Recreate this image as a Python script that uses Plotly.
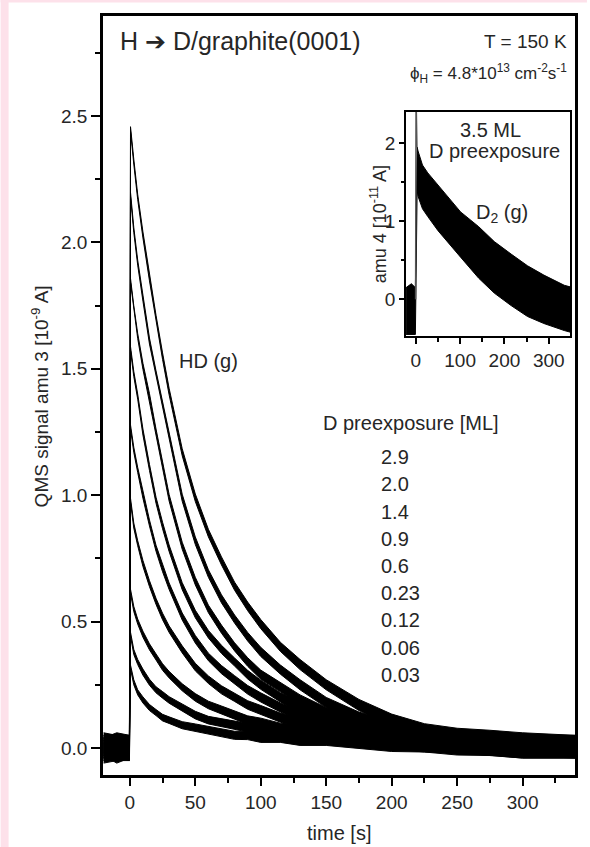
import plotly.graph_objects as go

# ---------------- data ----------------
preexposure = ["2.9", "2.0", "1.4", "0.9", "0.6", "0.23", "0.12", "0.06", "0.03"]

t_pre = [-20, -10, -0.3]
t_decay = [0.5, 3, 6, 10, 15, 20, 25, 30, 40, 50, 60, 70, 80, 90, 100,
           115, 130, 150, 175, 200, 225, 250, 275, 300, 340]

base_pre = [
    [0.01, -0.01, 0.00],
    [0.00, 0.01, 0.01],
    [-0.01, 0.00, -0.01],
    [0.02, 0.01, 0.00],
    [-0.02, -0.01, 0.00],
    [0.00, 0.02, 0.01],
    [0.01, -0.02, 0.00],
    [-0.01, 0.00, 0.01],
    [0.00, -0.01, -0.01],
]

hd_29 = [2.45, 2.32, 2.18, 2.03, 1.86, 1.70, 1.55, 1.41, 1.17, 0.99, 0.85, 0.74, 0.64, 0.56, 0.49,
         0.40, 0.33, 0.25, 0.17, 0.11, 0.07, 0.05, 0.04, 0.03, 0.02]
hd_20 = [2.19, 2.05, 1.92, 1.78, 1.61, 1.48, 1.36, 1.24, 0.99, 0.82, 0.69, 0.59, 0.51, 0.44, 0.38,
         0.31, 0.25, 0.18, 0.12, 0.08, 0.05, 0.04, 0.03, 0.02, 0.02]
hd_14 = [1.85, 1.74, 1.63, 1.51, 1.39, 1.25, 1.12, 0.99, 0.80, 0.66, 0.55, 0.47, 0.40, 0.34, 0.29,
         0.24, 0.19, 0.14, 0.09, 0.06, 0.04, 0.03, 0.02, 0.02, 0.01]
hd_09 = [1.58, 1.48, 1.39, 1.25, 1.11, 0.98, 0.88, 0.79, 0.64, 0.53, 0.45, 0.39, 0.34, 0.29, 0.25,
         0.20, 0.16, 0.12, 0.08, 0.05, 0.04, 0.03, 0.02, 0.01, 0.01]
hd_06 = [1.27, 1.18, 1.10, 1.00, 0.89, 0.79, 0.71, 0.64, 0.52, 0.43, 0.36, 0.31, 0.27, 0.23, 0.20,
         0.16, 0.13, 0.10, 0.07, 0.05, 0.03, 0.02, 0.01, 0.00, 0.00]
hd_023 = [0.98, 0.88, 0.81, 0.73, 0.65, 0.58, 0.52, 0.47, 0.39, 0.32, 0.27, 0.23, 0.20, 0.17, 0.15,
          0.12, 0.10, 0.08, 0.05, 0.04, 0.03, 0.02, 0.01, 0.01, 0.00]
hd_012 = [0.62, 0.55, 0.50, 0.45, 0.40, 0.36, 0.32, 0.29, 0.24, 0.20, 0.17, 0.15, 0.13, 0.11, 0.10,
          0.08, 0.07, 0.05, 0.04, 0.03, 0.02, 0.01, 0.00, -0.01, -0.01]
hd_006 = [0.45, 0.38, 0.34, 0.30, 0.26, 0.23, 0.21, 0.19, 0.16, 0.13, 0.11, 0.10, 0.09, 0.08, 0.07,
          0.06, 0.05, 0.04, 0.03, 0.02, 0.01, 0.01, 0.00, 0.00, -0.01]
hd_003 = [0.32, 0.26, 0.22, 0.19, 0.16, 0.14, 0.12, 0.11, 0.09, 0.08, 0.07, 0.06, 0.05, 0.05, 0.04,
          0.04, 0.03, 0.03, 0.02, 0.01, 0.01, 0.00, 0.00, -0.01, -0.01]
hd_curves = [hd_29, hd_20, hd_14, hd_09, hd_06, hd_023, hd_012, hd_006, hd_003]

# noise half-width of the traces (signal units)
noise_pre = [0.04, 0.04, 0.04]
noise_decay = [0.008, 0.01, 0.01, 0.012, 0.012, 0.012, 0.013, 0.013, 0.014, 0.015, 0.015, 0.016,
               0.016, 0.017, 0.018, 0.018, 0.02, 0.02, 0.022, 0.024, 0.026, 0.028, 0.03, 0.03, 0.03]

# inset: D2 signal, amu 4, 3.5 ML preexposure (envelope of the noisy trace)
d2_t = [-22, -10, -1, 3, 5, 15, 27, 50, 69, 101, 142, 177, 215, 252, 289, 335, 348]
d2_hi = [0.15, 0.20, 0.15, 1.95, 1.90, 1.72, 1.62, 1.46, 1.34, 1.12, 0.93, 0.74, 0.58, 0.43, 0.31, 0.18, 0.16]
d2_lo = [-0.45, -0.45, -0.45, 1.40, 1.32, 1.16, 1.06, 0.88, 0.76, 0.54, 0.27, 0.08, -0.08, -0.22, -0.31, -0.40, -0.42]
spike_t = [-0.5, 0.5, 2.5]
spike_v = [0.0, 2.6, 1.95]

# ---------------- figure ----------------
W, H = 590, 847
ML, MR, MT, MB = 103, 12, 16, 72
PW, PH = W - ML - MR, H - MT - MB


def px(x):
    return (x - ML) / PW


def py(y):
    return (H - MB - y) / PH


FONT = "Liberation Sans, Arial, Helvetica, sans-serif"
TXT = "#262626"

fig = go.Figure()

for vals, base in zip(hd_curves, base_pre):
    xs = t_pre + t_decay
    ys = base + vals
    ns = noise_pre + noise_decay
    up = [y + n for y, n in zip(ys, ns)]
    lo = [y - n for y, n in zip(ys, ns)]
    fig.add_trace(go.Scatter(
        x=xs + xs[::-1], y=up + lo[::-1], mode="lines", fill="toself",
        fillcolor="black", line=dict(color="black", width=1),
        xaxis="x", yaxis="y", showlegend=False, hoverinfo="skip"))

fig.add_trace(go.Scatter(
    x=d2_t + d2_t[::-1], y=d2_hi + d2_lo[::-1], mode="lines", fill="toself",
    fillcolor="black", line=dict(color="black", width=1),
    xaxis="x2", yaxis="y2", showlegend=False, hoverinfo="skip"))
fig.add_trace(go.Scatter(
    x=spike_t, y=spike_v, mode="lines", line=dict(color="#555555", width=1.5),
    xaxis="x2", yaxis="y2", showlegend=False, hoverinfo="skip"))

axis_common = dict(showline=True, linecolor="black", mirror=True, ticks="outside",
                   tickcolor="black", showgrid=False, zeroline=False,
                   tickfont=dict(family=FONT, size=19, color=TXT))

fig.update_layout(
    width=W, height=H,
    margin=dict(l=ML, r=MR, t=MT, b=MB),
    paper_bgcolor="white", plot_bgcolor="white",
    font=dict(family=FONT, color=TXT),
    xaxis=dict(range=[-20.5, 340], domain=[0, 1], tick0=0, dtick=50, linewidth=2.5,
               ticklen=8, tickwidth=2,
               minor=dict(ticks="outside", ticklen=5, tickwidth=2, dtick=25, tick0=0,
                          tickcolor="black"),
               **axis_common),
    yaxis=dict(range=[-0.107, 2.896], domain=[0, 1], tick0=0, dtick=0.5, tickformat=".1f",
               linewidth=2.5, ticklen=9, tickwidth=2,
               minor=dict(ticks="outside", ticklen=5, tickwidth=2, dtick=0.25, tick0=0,
                          tickcolor="black"),
               **axis_common),
    xaxis2=dict(range=[-22, 348], domain=[px(408), px(573)], anchor="y2", tick0=0, dtick=100,
                linewidth=2, ticklen=6, tickwidth=2,
                minor=dict(ticks="outside", ticklen=4, tickwidth=2, dtick=50, tick0=0,
                           tickcolor="black"),
                **axis_common),
    yaxis2=dict(range=[-0.47, 2.40], domain=[py(336), py(112)], anchor="x2", tick0=0, dtick=1,
                linewidth=2, ticklen=5, tickwidth=2,
                minor=dict(ticks="outside", ticklen=3, tickwidth=2, dtick=0.5, tick0=0,
                           tickcolor="black"),
                **axis_common),
)

# pink page edge
PINK = "#fde1ea"
fig.add_shape(type="rect", xref="paper", yref="paper", x0=px(0), x1=px(8), y0=py(H), y1=py(0),
              fillcolor=PINK, line=dict(width=0), layer="below")
fig.add_shape(type="rect", xref="paper", yref="paper", x0=px(0), x1=px(W), y0=py(2.5), y1=py(0),
              fillcolor=PINK, line=dict(width=0), layer="below")


def ann(text, x, y, size, xanchor="center", angle=0):
    fig.add_annotation(text=text, x=px(x), y=py(y), xref="paper", yref="paper",
                       xanchor=xanchor, yanchor="middle", showarrow=False, textangle=angle,
                       font=dict(family=FONT, size=size, color=TXT))


ann("QMS signal amu 3 [10<sup>-9</sup> A]", 40, 396, 19, angle=-90)
ann("time [s]", 340, 833, 20)
ann("H <span style='font-family:DejaVu Sans'>➔</span> D/graphite(0001)", 118, 41, 25, xanchor="left")
ann("T = 150 K", 572, 42, 19, xanchor="right")
ann("ϕ<sub>H</sub> = 4.8*10<sup>13</sup> cm<sup>-2</sup>s<sup>-1</sup>", 572, 73, 17, xanchor="right")
ann("HD (g)", 209, 361, 20)
ann("D preexposure [ML]", 413, 423, 20)
list_y = [457, 484, 512, 539, 566, 593, 620, 648, 675]
for lab, yy in zip(preexposure, list_y):
    ann(lab, 381, yy, 20, xanchor="left")

ann("3.5 ML", 493, 130, 20)
ann("D preexposure", 497, 151, 20)
ann("D<sub>2</sub> (g)", 505, 213, 20)
ann("amu 4 [10<sup>-11</sup> A]", 380, 224, 18, angle=-90)

fig.write_html("out.html")
